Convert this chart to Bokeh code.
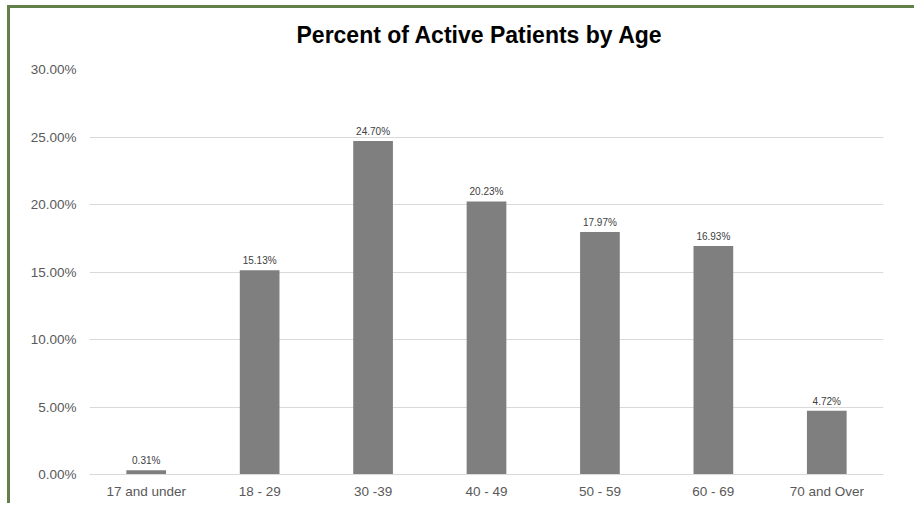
from bokeh.plotting import figure
from bokeh.models import FactorRange, Range1d, SingleIntervalTicker, PrintfTickFormatter, ColumnDataSource, Title
from bokeh.core.properties import value
from bokeh.embed import file_html
from bokeh.resources import INLINE

categories = ["17 and under", "18 - 29", "30 -39", "40 - 49", "50 - 59", "60 - 69", "70 and Over"]
percents = [0.31, 15.13, 24.70, 20.23, 17.97, 16.93, 4.72]
labels = [f"{v:.2f}%" for v in percents]
title_text = "Percent of Active Patients by Age"

FONT = "Liberation Sans"
GREEN = "#62804a"

src = ColumnDataSource(dict(cat=categories, val=percents, lab=labels))

p = figure(x_range=FactorRange(*categories), y_range=Range1d(0, 30),
           width=907, height=498, output_backend="svg", toolbar_location=None,
           min_border_left=79, min_border_right=34, min_border_top=61, min_border_bottom=32)
p.styles = {"border-top": f"3px solid {GREEN}", "border-left": f"3px solid {GREEN}",
            "margin-top": "5px", "margin-left": "7px"}

# spacer between the frame and the title, then the title itself
p.add_layout(Title(text=" ", text_font_size="1px", standoff=19), "above")
p.add_layout(Title(text=title_text, align="left", offset=207, standoff=0, text_font=FONT,
                   text_font_size="23px", text_font_style="bold", text_color="#000000"), "above")

p.vbar(x="cat", top="val", width=0.35, source=src, fill_color="#7f7f7f", line_color=None)
p.text(x="cat", y="val", text="lab", source=src, text_align="center", text_baseline="bottom",
       y_offset=-4, text_font=value(FONT), text_font_size="10px", text_color="#404040")

p.outline_line_color = None
p.xgrid.grid_line_color = None
p.ygrid.grid_line_color = "#d9d9d9"
p.ygrid.grid_line_width = 1

p.yaxis.ticker = SingleIntervalTicker(interval=5)
p.yaxis.formatter = PrintfTickFormatter(format="%.2f%%")
for ax in (p.xaxis, p.yaxis):
    ax.axis_line_color = None
    ax.major_tick_line_color = None
    ax.minor_tick_line_color = None
    ax.major_tick_out = 0
    ax.major_tick_in = 0
    ax.major_label_text_font = FONT
    ax.major_label_text_font_size = "13.5px"
    ax.major_label_text_color = "#595959"
p.xaxis.major_label_standoff = 9
p.yaxis.major_label_standoff = 9
p.xaxis.axis_line_color = "#d9d9d9"

open("out.html", "w").write(file_html(p, INLINE))
